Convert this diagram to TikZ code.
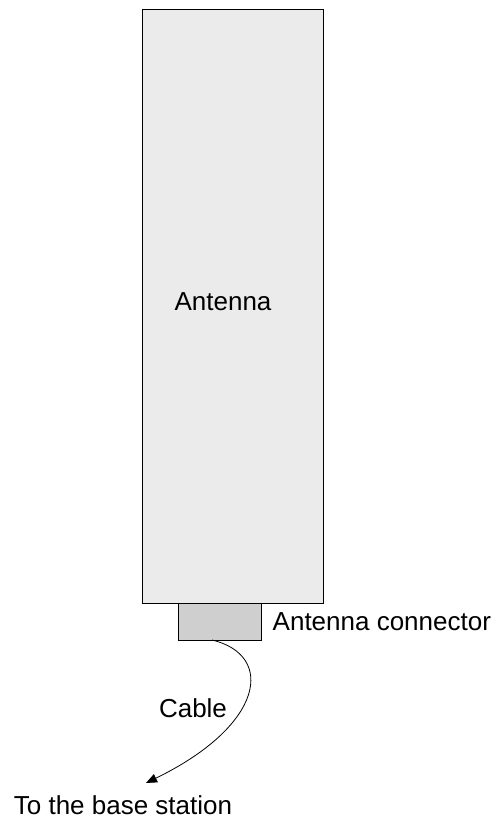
\documentclass[tikz,border=0pt]{standalone}
\usepackage{fontspec}
\setmainfont{Liberation Sans}
\usetikzlibrary{positioning,arrows.meta}

\begin{document}
\begin{tikzpicture}[x=1pt, y=-1pt,
    box/.style={rectangle, draw, line width=1pt, inner sep=0pt},
    txt/.style={font=\fontsize{26}{31}\selectfont, inner sep=0pt}]
        \useasboundingbox (0,0) rectangle (499,819);

        % Draw the antenna and its connector
        \node[box, fill=black!8, minimum width=181pt, minimum height=594pt,
              label={[txt, xshift=-10pt, yshift=4pt]center:Antenna}] (antenna) at (233,306) {};
        \node[box, fill=black!19, minimum width=83pt, minimum height=37pt,
              anchor=north] (connector) at (219.5,603) {};
        \node[txt, anchor=west, right=11pt of connector] (conlabel) {Antenna connector};

        % Draw the cable
        \coordinate (plug) at (212,640);
        \coordinate (base) at (146,783);
        \draw[line width=0.8pt, -{Triangle[length=11pt,width=9pt]}]
            (plug) .. controls (275,655) and (265,725) .. (base);
        \node[txt] (cable) at (193,708) {Cable};
        \node[txt] (baselabel) at (123,805) {To the base station};
      \end{tikzpicture}
\end{document}
